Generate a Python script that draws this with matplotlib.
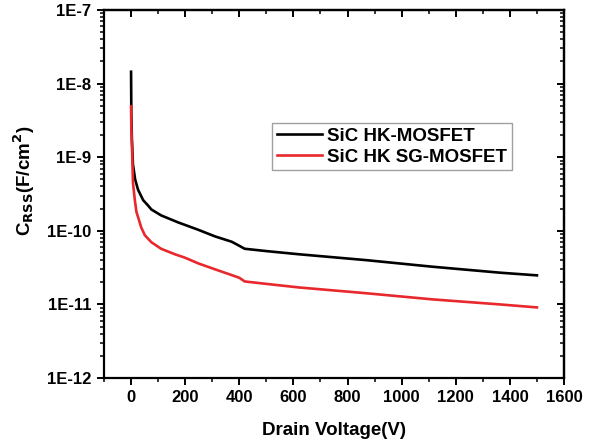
import matplotlib
matplotlib.use("Agg")
import matplotlib.pyplot as plt
from matplotlib.ticker import LogLocator, MultipleLocator, FixedLocator, NullFormatter

plt.rcParams['font.family'] = ['Liberation Sans', 'DejaVu Sans']
plt.rcParams['font.weight'] = 'bold'

v_hk = [0, 1, 3, 7, 15, 26, 45, 63, 75, 111, 174, 200, 249, 310, 372, 395, 420,
        500, 620, 867, 1114, 1362, 1500]
c_hk = [1.45e-8, 4e-9, 1.8e-9, 8e-10, 5e-10, 3.6e-10, 2.6e-10, 2.2e-10, 1.95e-10,
        1.62e-10, 1.3e-10, 1.2e-10, 1.03e-10, 8.4e-11, 7.1e-11, 6.4e-11, 5.7e-11,
        5.3e-11, 4.8e-11, 4.0e-11, 3.25e-11, 2.7e-11, 2.48e-11]

v_sg = [0, 1, 3.7, 7, 14, 20, 38, 51, 75, 111, 162, 200, 249, 310, 372, 400, 420,
        500, 620, 867, 1114, 1362, 1500]
c_sg = [4.9e-9, 2.5e-9, 1.3e-9, 4.5e-10, 2.6e-10, 1.8e-10, 1.1e-10, 8.7e-11,
        7.0e-11, 5.7e-11, 4.8e-11, 4.3e-11, 3.6e-11, 3.0e-11, 2.5e-11, 2.3e-11,
        2.05e-11, 1.9e-11, 1.7e-11, 1.42e-11, 1.17e-11, 1.0e-11, 9.1e-12]

series_labels = ['SiC HK-MOSFET', 'SiC HK SG-MOSFET']
x_ticks = [0, 200, 400, 600, 800, 1000, 1200, 1400, 1600]
x_tick_labels = ['0', '200', '400', '600', '800', '1000', '1200', '1400', '1600']
y_ticks = [1e-12, 1e-11, 1e-10, 1e-9, 1e-8, 1e-7]
y_tick_labels = ['1E-12', '1E-11', '1E-10', '1E-9', '1E-8', '1E-7']

fig = plt.figure(figsize=(5.95, 4.43), dpi=100)
ax = fig.add_axes([104/595, 1-378/443, (564-104)/595, (378-10)/443])

ax.plot(v_hk, c_hk, color='black', lw=1.9, label=series_labels[0])
ax.plot(v_sg, c_sg, color='#e8282c', lw=1.9, label=series_labels[1])

ax.set_yscale('log')
ax.set_xlim(-100, 1600)
ax.set_ylim(1e-12, 1e-7)

ax.set_xticks(x_ticks, labels=x_tick_labels, fontweight='bold', fontsize=12)
ax.xaxis.set_minor_locator(MultipleLocator(100))
ax.set_yticks(y_ticks, labels=y_tick_labels, fontweight='bold', fontsize=12)
ax.yaxis.set_minor_locator(LogLocator(base=10, subs=range(2, 10), numticks=20))
ax.yaxis.set_minor_formatter(NullFormatter())

ax.tick_params(axis='both', which='major', width=1.4, length=5, direction='out', pad=4)
ax.tick_params(axis='both', which='minor', width=1.1, length=3, direction='out')

# mirrored inward ticks on top and right
axt = ax.secondary_xaxis('top')
axt.xaxis.set_major_locator(FixedLocator(x_ticks))
axt.xaxis.set_minor_locator(MultipleLocator(100))
axt.tick_params(which='major', direction='in', length=5, width=1.4, labeltop=False)
axt.tick_params(which='minor', direction='in', length=3, width=1.1)
axr = ax.secondary_yaxis('right')
axr.set_yscale('log')
axr.yaxis.set_major_locator(FixedLocator(y_ticks))
axr.yaxis.set_minor_locator(LogLocator(base=10, subs=range(2, 10), numticks=20))
axr.yaxis.set_minor_formatter(NullFormatter())
axr.tick_params(which='major', direction='in', length=5, width=1.4, labelright=False)
axr.tick_params(which='minor', direction='in', length=3, width=1.1)
axr.set_yticklabels([])

for sp in list(ax.spines.values()):
    sp.set_linewidth(1.6)
for sp in list(axt.spines.values()) + list(axr.spines.values()):
    sp.set_linewidth(1.6)

ax.set_xlabel('Drain Voltage(V)', fontsize=13.5, fontweight='bold', labelpad=12)
ax.set_ylabel(r'C$_{\mathbf{RSS}}$(F/cm$^{\mathbf{2}}$)', fontsize=13.5, fontweight='bold')
ax.yaxis.set_label_coords(-0.145, 0.535)

leg = ax.legend(loc='upper left', bbox_to_anchor=((272-104)/460, 1-(123-10)/368),
                prop={'weight': 'bold', 'size': 13.5}, frameon=True, fancybox=False,
                handlelength=2.4, handletextpad=0.3, borderpad=0.25, labelspacing=0.2,
                borderaxespad=0)
leg.get_frame().set_edgecolor('#888888')
leg.get_frame().set_linewidth(1.0)

fig.savefig('out.png', dpi=100)
